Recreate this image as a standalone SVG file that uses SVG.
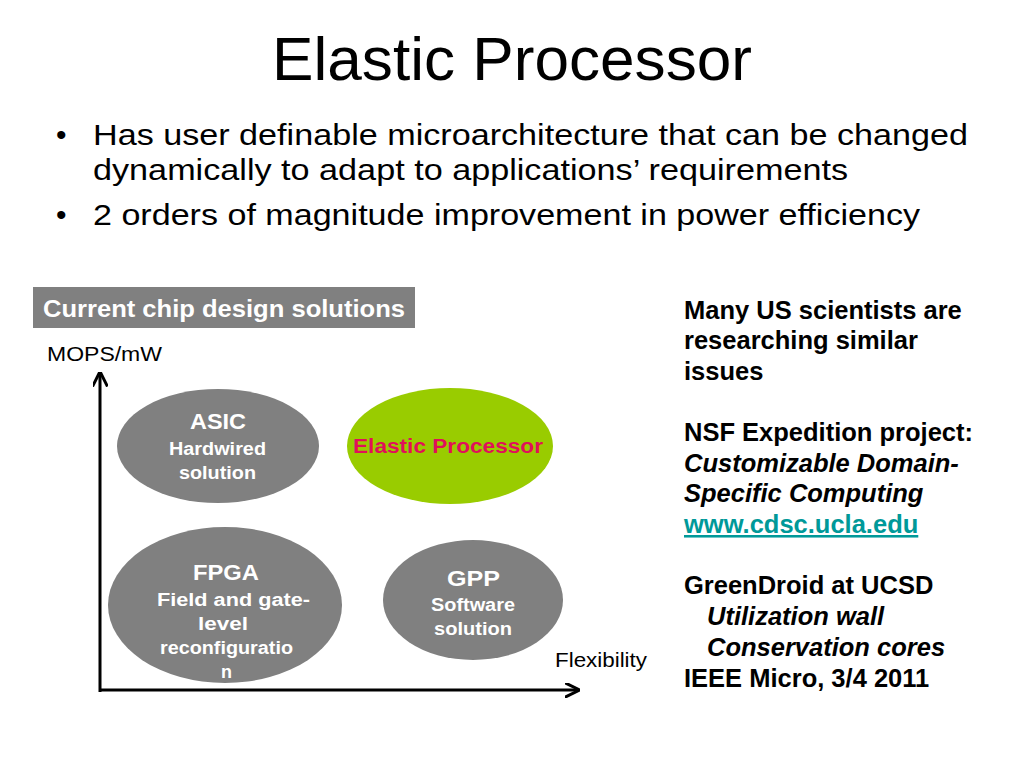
<svg xmlns="http://www.w3.org/2000/svg" width="1024" height="768" viewBox="0 0 1024 768">
<defs>
<style>
text{font-family:"Liberation Sans",Arial,sans-serif;}
.title{font-size:62px;fill:#000;}
.bul{font-size:30px;fill:#000;}
.ax{font-size:21px;fill:#000;}
.nh{font-size:22px;font-weight:bold;fill:#fff;}
.ns{font-size:18px;font-weight:bold;fill:#fff;}
.gray{fill:#808080;}
.rt{font-size:25.5px;font-weight:bold;fill:#000;}
.it{font-style:italic;}
.axis{stroke:#000;stroke-width:3;fill:none;}
</style>
<marker id="arr" viewBox="0 0 10 10" refX="9" refY="5" markerWidth="5" markerHeight="5" markerUnits="strokeWidth" orient="auto">
<path d="M0,0 L10,5 L0,10" fill="none" stroke="#000" stroke-width="2"/>
</marker>
</defs>
<rect width="1024" height="768" fill="#fff"/>
<text class="title" x="272" y="80" textLength="480" lengthAdjust="spacingAndGlyphs">Elastic Processor</text>
<g id="bullets">
<text class="bul" x="56" y="145">•</text>
<text class="bul" x="93" y="145" textLength="875" lengthAdjust="spacingAndGlyphs">Has user definable microarchitecture that can be changed</text>
<text class="bul" x="93" y="180" textLength="755" lengthAdjust="spacingAndGlyphs">dynamically to adapt to applications’ requirements</text>
<text class="bul" x="56" y="225">•</text>
<text class="bul" x="93" y="225" textLength="827" lengthAdjust="spacingAndGlyphs">2 orders of magnitude improvement in power efficiency</text>
</g>
<g id="header">
<rect x="33" y="287" width="382" height="41" fill="#808080"/>
<text x="43" y="317" font-size="23" font-weight="bold" fill="#fff" textLength="362" lengthAdjust="spacingAndGlyphs">Current chip design solutions</text>
</g>
<text class="ax" x="47" y="361" textLength="115" lengthAdjust="spacingAndGlyphs">MOPS/mW</text>
<text class="ax" x="555" y="667" textLength="92" lengthAdjust="spacingAndGlyphs">Flexibility</text>
<g id="connectors">
<line class="axis" x1="100" y1="692" x2="100" y2="373" marker-end="url(#arr)"/>
<line class="axis" x1="99" y1="690" x2="578" y2="690" marker-end="url(#arr)"/>
</g>
<g id="asic">
<ellipse cx="218" cy="446" rx="101" ry="57" class="gray"/>
<text class="nh" x="190" y="429" textLength="56" lengthAdjust="spacingAndGlyphs">ASIC</text>
<text class="ns" x="169" y="455" textLength="97" lengthAdjust="spacingAndGlyphs">Hardwired</text>
<text class="ns" x="179" y="479" textLength="77" lengthAdjust="spacingAndGlyphs">solution</text>
</g>
<g id="elastic">
<ellipse cx="450" cy="446" rx="103" ry="58" fill="#99CC00"/>
<text x="353" y="453" font-size="20" font-weight="bold" fill="#E0105A" textLength="190" lengthAdjust="spacingAndGlyphs">Elastic Processor</text>
</g>
<g id="fpga">
<ellipse cx="225" cy="605" rx="117" ry="78" class="gray"/>
<text class="nh" x="193" y="580" textLength="66" lengthAdjust="spacingAndGlyphs">FPGA</text>
<text class="ns" x="157" y="606" textLength="153" lengthAdjust="spacingAndGlyphs">Field and gate-</text>
<text class="ns" x="198" y="630" textLength="50" lengthAdjust="spacingAndGlyphs">level</text>
<text class="ns" x="160" y="654" textLength="133" lengthAdjust="spacingAndGlyphs">reconfiguratio</text>
<text class="ns" x="221" y="678" textLength="11" lengthAdjust="spacingAndGlyphs">n</text>
</g>
<g id="gpp">
<ellipse cx="473" cy="600" rx="90" ry="60" class="gray"/>
<text class="nh" x="447" y="586" textLength="53" lengthAdjust="spacingAndGlyphs">GPP</text>
<text class="ns" x="431" y="611" textLength="84" lengthAdjust="spacingAndGlyphs">Software</text>
<text class="ns" x="434" y="635" textLength="78" lengthAdjust="spacingAndGlyphs">solution</text>
</g>
<g id="notes">
<text class="rt" x="684" y="319">Many US scientists are</text>
<text class="rt" x="684" y="349">researching similar</text>
<text class="rt" x="684" y="380">issues</text>
<text class="rt" x="684" y="441">NSF Expedition project:</text>
<text class="rt it" x="684" y="472">Customizable Domain-</text>
<text class="rt it" x="684" y="502">Specific Computing</text>
<text class="rt" x="684" y="533" text-decoration="underline" style="fill:#009999">www.cdsc.ucla.edu</text>
<text class="rt" x="684" y="594">GreenDroid at UCSD</text>
<text class="rt it" x="707" y="625">Utilization wall</text>
<text class="rt it" x="707" y="656">Conservation cores</text>
<text class="rt" x="684" y="687">IEEE Micro, 3/4 2011</text>
</g>
</svg>
